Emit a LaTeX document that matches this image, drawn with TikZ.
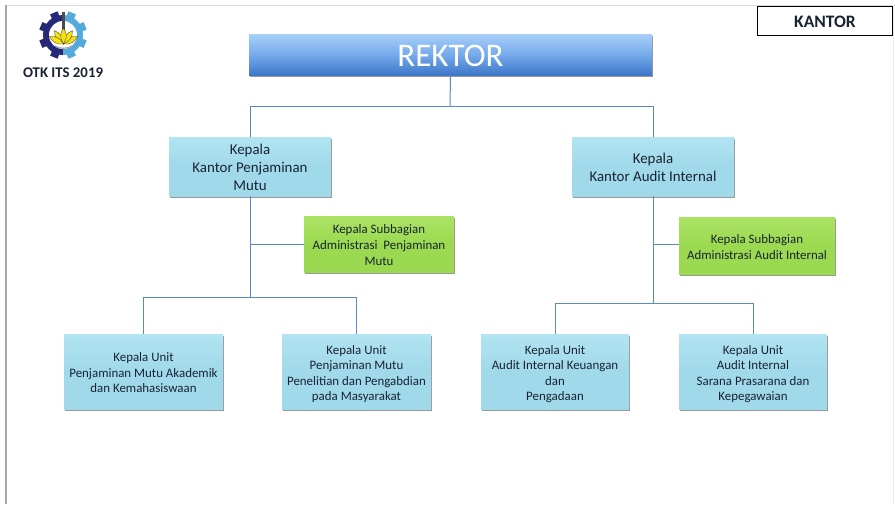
\documentclass[tikz,border=0pt]{standalone}
\usepackage{fontspec}
\setmainfont{Carlito}
\usetikzlibrary{shadows}
\newcommand{\toppad}[1]{\rule{0pt}{#1}}
\definecolor{linkblue}{RGB}{88,138,198}
\definecolor{cyanbox}{RGB}{160,217,234}
\definecolor{cyanlight}{RGB}{178,228,242}
\definecolor{greenbox}{RGB}{155,218,80}
\definecolor{greenlight}{RGB}{172,226,100}
\definecolor{rektorlight}{RGB}{168,208,250}
\definecolor{rektormid}{RGB}{118,170,235}
\definecolor{rektordark}{RGB}{62,120,200}
\definecolor{gearnavy}{RGB}{38,40,120}
\definecolor{gearblue}{RGB}{85,170,220}
\definecolor{flower}{RGB}{245,225,20}
\definecolor{txt}{RGB}{25,35,50}
\tikzset{
  link/.style={draw=linkblue,line width=1pt},
  softshadow/.style={drop shadow={shadow xshift=.8pt,shadow yshift=-1.6pt,opacity=.5,fill=black!80}},
  unitbox/.style={top color=cyanlight,bottom color=cyanbox,middle color=cyanbox,
    align=center,inner sep=0pt,text=txt,softshadow},
  subbox/.style={top color=greenlight,bottom color=greenbox,middle color=greenbox,
    align=center,inner sep=0pt,text=txt,softshadow},
  petal/.style={fill=flower,draw=black!80,line width=.3pt}
}
\begin{document}
\begin{tikzpicture}[x=1pt,y=-1pt]
  \useasboundingbox (0,0) rectangle (895,504);
  \fill[white] (0,0) rectangle (895,504);
  % page edges
  \draw[gray!30,line width=.6pt] (6,5.5) -- (895,5.5);
  \draw[gray!70,line width=1.4pt] (5.8,5) -- (5.8,504);
  \draw[gray!15,line width=.8pt] (893,5) -- (893,504);

  % logo
  \begin{scope}
    \clip (63,8) rectangle (30,62);
    \foreach \a in {0,45,...,315}
      \fill[gearnavy,rotate around={\a+22.5:(63,35)}] (59,11) rectangle (67,18);
    \fill[gearnavy] (63,35) circle (20);
  \end{scope}
  \begin{scope}
    \clip (63,8) rectangle (96,62);
    \foreach \a in {0,45,...,315}
      \fill[gearblue,rotate around={\a+22.5:(63,35)}] (59,11) rectangle (67,18);
    \fill[gearblue] (63,35) circle (20);
  \end{scope}
  \fill[white] (63,35) circle (14);
  \fill[gray!60!black] (61.5,12) rectangle (65,31);
  \draw[gray!70,line width=1.2pt] (55,46) .. controls (59,49) and (68,49) .. (72,46);
  \foreach \a in {-62,-34,34,62,0}
    \fill[petal,rotate around={\a:(63.5,44)}] (63.5,44) .. controls (59.5,38) and (60,33) .. (63.5,28)
      .. controls (67,33) and (67.5,38) .. (63.5,44) -- cycle;
  \node (logotext) at (63,72.5) {\fontsize{14.8}{15}\selectfont\bfseries\color{txt}OTK ITS 2019};

  % title box
  \node[draw=black,line width=1pt,minimum width=135.5pt,minimum height=28.5pt,inner sep=0pt,text height=13.3pt] (kantor) at (825,21)
    {\fontsize{17.5}{17.5}\selectfont\bfseries\color{txt}KANTOR};

  % nodes
  \node[top color=rektorlight,bottom color=rektordark,middle color=rektormid,softshadow,
    minimum width=403pt,minimum height=41pt,inner sep=0pt,text=white,text height=25pt] (rektor) at (450.5,54.5)
    {\fontsize{33}{33}\selectfont REKTOR};

  \node[unitbox,minimum width=162pt,minimum height=59pt,font=\fontsize{14.9}{18}\selectfont] (kpm) at (250,166.5)
    {\toppad{12.9pt}Kepala\\Kantor Penjaminan\\Mutu};
  \node[unitbox,minimum width=162pt,minimum height=59pt,font=\fontsize{14.9}{18}\selectfont] (kai) at (653,166.5)
    {\toppad{12.9pt}Kepala\\Kantor Audit Internal};
  \node[subbox,minimum width=150pt,minimum height=56pt,font=\fontsize{12.9}{16}\selectfont] (subkpm) at (379,244)
    {\toppad{11.4pt}Kepala Subbagian\\Administrasi~ Penjaminan\\Mutu};
  \node[subbox,minimum width=156pt,minimum height=57pt,font=\fontsize{12.9}{16}\selectfont] (subkai) at (757,245.5)
    {\toppad{11.4pt}Kepala Subbagian\\Administrasi Audit Internal};

  \node[unitbox,minimum width=159pt,minimum height=75pt,font=\fontsize{12.9}{15.5}\selectfont] (unita) at (143.5,371.5)
    {\toppad{11.4pt}Kepala Unit\\Penjaminan Mutu Akademik\\dan Kemahasiswaan};
  \node[unitbox,minimum width=149pt,minimum height=75pt,font=\fontsize{12.9}{15.5}\selectfont] (unitb) at (356.5,371.5)
    {\toppad{14.4pt}Kepala Unit\\Penjaminan Mutu\\Penelitian dan Pengabdian\\pada Masyarakat};
  \node[unitbox,minimum width=148pt,minimum height=75pt,font=\fontsize{12.9}{15.5}\selectfont] (unitc) at (555,371.5)
    {\toppad{14.4pt}Kepala Unit\\Audit Internal Keuangan\\dan\\Pengadaan};
  \node[unitbox,minimum width=148pt,minimum height=75pt,font=\fontsize{12.9}{15.5}\selectfont] (unitd) at (753,371.5)
    {\toppad{14.4pt}Kepala Unit\\Audit Internal\\Sarana Prasarana dan\\Kepegawaian};

  % connectors
  \coordinate (busTop) at (450,106);
  \coordinate (busKpm) at (250,297);
  \coordinate (busKai) at (653,303);
  \draw[link] (rektor.south) -- (busTop);
  \draw[link] (busTop) -| (kpm.north);
  \draw[link] (busTop) -| (kai.north);
  \draw[link] (kpm.south) -- (busKpm);
  \draw[link] (kai.south) -- (busKai);
  \draw[link] (subkpm.west) -- (subkpm.west -| busKpm);
  \draw[link] (subkai.west) ++(0,-1.5) -- ++(-26,0);
  \draw[link] (busKpm) -| (unita.north);
  \draw[link] (busKpm) -| (unitb.north);
  \draw[link] (busKai) -| (unitc.north);
  \draw[link] (busKai) -| (unitd.north);
\end{tikzpicture}
\end{document}
